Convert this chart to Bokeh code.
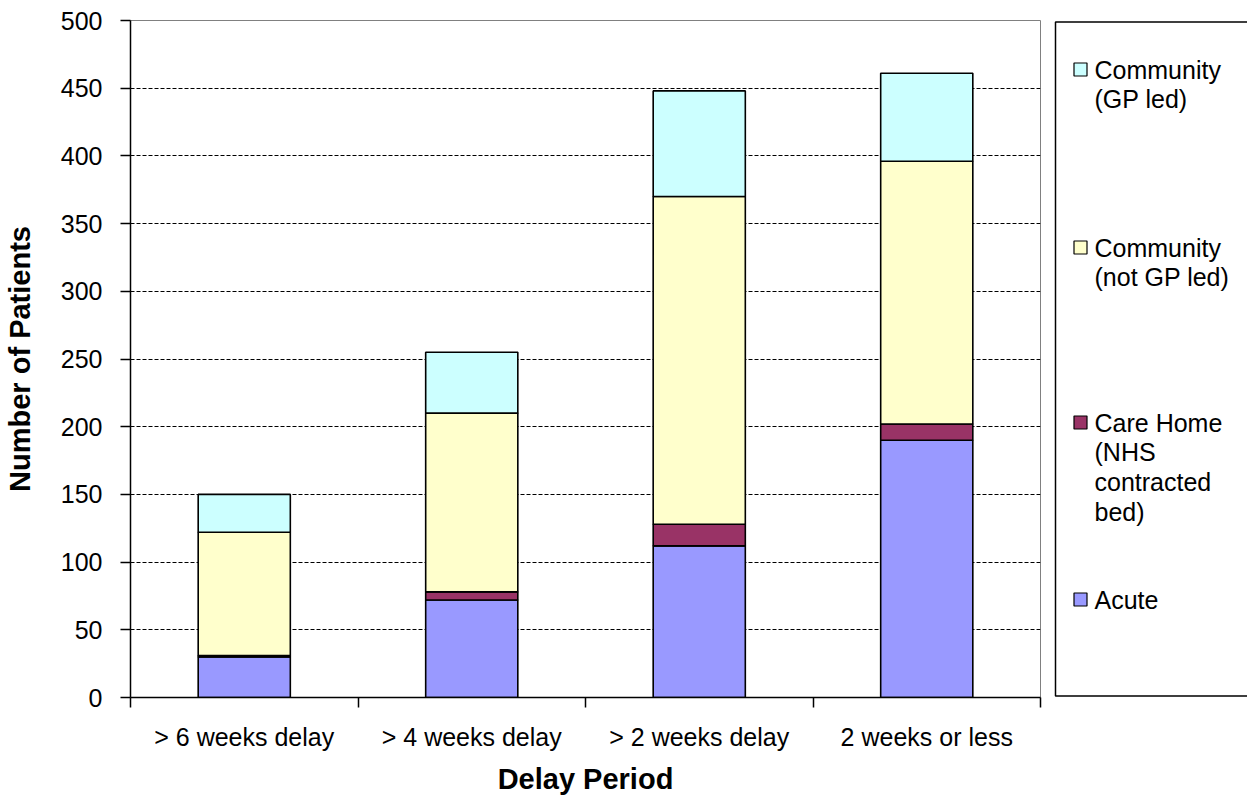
from bokeh.plotting import figure
from bokeh.models import Range1d, FixedTicker, ColumnDataSource
from bokeh.layouts import row
from bokeh.embed import file_html
from bokeh.resources import INLINE
from bokeh.core.properties import value

# ---- data ----
categories = ["> 6 weeks delay", "> 4 weeks delay", "> 2 weeks delay", "2 weeks or less"]
series_keys = ["acute", "care_home", "community_not_gp", "community_gp"]
acute = [30, 72, 112, 190]
care_home = [1, 6, 16, 12]
community_not_gp = [91, 132, 242, 194]
community_gp = [28, 45, 78, 65]
series_colors = ["#9999FF", "#993366", "#FFFFCC", "#CCFFFF"]
legend_labels = ["Acute", "Care Home\n(NHS\ncontracted\nbed)", "Community\n(not GP led)", "Community\n(GP led)"]
y_ticks = [0, 50, 100, 150, 200, 250, 300, 350, 400, 450, 500]

FONT = "Liberation Sans"

n = len(categories)
centers = [i + 0.5 for i in range(n)]
bounds = [float(i) for i in range(n + 1)]

source = ColumnDataSource(data=dict(
    x=centers, acute=acute, care_home=care_home,
    community_not_gp=community_not_gp, community_gp=community_gp,
))

FH = 677
p = figure(
    x_range=Range1d(0, n), y_range=Range1d(0, 500),
    frame_width=910, frame_height=FH,
    min_border_left=130, min_border_right=5, min_border_top=20, min_border_bottom=0,
    toolbar_location=None, output_backend="svg",
    x_axis_label="Delay Period", y_axis_label="Number of Patients",
)
p.background_fill_color = "white"
p.border_fill_color = "white"
p.outline_line_color = "#808080"
p.outline_line_width = 1

p.vbar_stack(series_keys, x="x", width=0.405, fill_color=series_colors,
             line_color="black", line_width=1.6, source=source)

# grid
p.xgrid.visible = False
p.ygrid.grid_line_color = "black"
p.ygrid.grid_line_dash = "4 2"
p.ygrid.grid_line_width = 1.2

# y axis
ya = p.yaxis[0]
ya.ticker = FixedTicker(ticks=y_ticks)
ya.axis_line_color = "black"
ya.axis_line_width = 1.5
ya.major_tick_in = 0
ya.major_tick_out = 10
ya.major_tick_line_width = 1.5
ya.minor_tick_line_color = None
ya.major_label_standoff = 18
ya.major_label_text_font = FONT
ya.major_label_text_font_size = "25px"
ya.major_label_text_color = "black"
ya.axis_label_text_font = FONT
ya.axis_label_text_font_size = "29px"
ya.axis_label_text_font_style = "bold"
ya.axis_label_text_color = "black"
ya.axis_label_standoff = 22

# x axis
xa = p.xaxis[0]
xa.ticker = FixedTicker(ticks=centers, minor_ticks=bounds)
xa.major_label_overrides = {c: cat for c, cat in zip(centers, categories)}
xa.axis_line_color = "black"
xa.axis_line_width = 1.5
xa.major_tick_line_color = None
xa.major_tick_in = 0
xa.major_tick_out = 0
xa.minor_tick_in = 0
xa.minor_tick_out = 10
xa.minor_tick_line_color = "black"
xa.minor_tick_line_width = 1.5
xa.major_label_standoff = 15
xa.major_label_text_font = FONT
xa.major_label_text_font_size = "25px"
xa.major_label_text_color = "black"
xa.axis_label_text_font = FONT
xa.axis_label_text_font_size = "29px"
xa.axis_label_text_font_style = "bold"
xa.axis_label_text_color = "black"
xa.axis_label_standoff = 9

# ---- legend panel (frame aligned with the chart frame) ----
LW = 202
lg = figure(frame_width=LW, frame_height=FH, x_range=Range1d(0, LW), y_range=Range1d(FH, 0),
            x_axis_location=None, y_axis_location=None,
            toolbar_location=None, output_backend="svg",
            min_border_left=0, min_border_right=0, min_border_top=20, min_border_bottom=0)
lg.grid.visible = False
lg.outline_line_color = None
lg.background_fill_color = "white"
lg.border_fill_color = "white"

# legend box (its right side runs past the window edge)
lg.multi_line(xs=[[LW + 40, 10, 10, LW + 40]], ys=[[1.5, 1.5, FH - 1.5, FH - 1.5]],
              line_color="black", line_width=1.5)

# legend order, top to bottom
order = [3, 2, 1, 0]
item_y = [49, 227, 402, 579]
lsrc = ColumnDataSource(data=dict(
    y=item_y,
    ty=[v - 14 for v in item_y],
    color=[series_colors[i] for i in order],
    label=[legend_labels[i] for i in order],
))
lg.rect(x=35, y="y", width=13, height=13, fill_color="color",
        line_color="black", line_width=1.2, source=lsrc)
lg.text(x=49, y="ty", text="label", source=lsrc,
        text_font=value(FONT), text_font_size="25px", text_color="black",
        text_baseline="top", text_align="left", text_line_height=1.07)

layout = row(p, lg, spacing=0)

open("out.html", "w").write(file_html(layout, INLINE))
